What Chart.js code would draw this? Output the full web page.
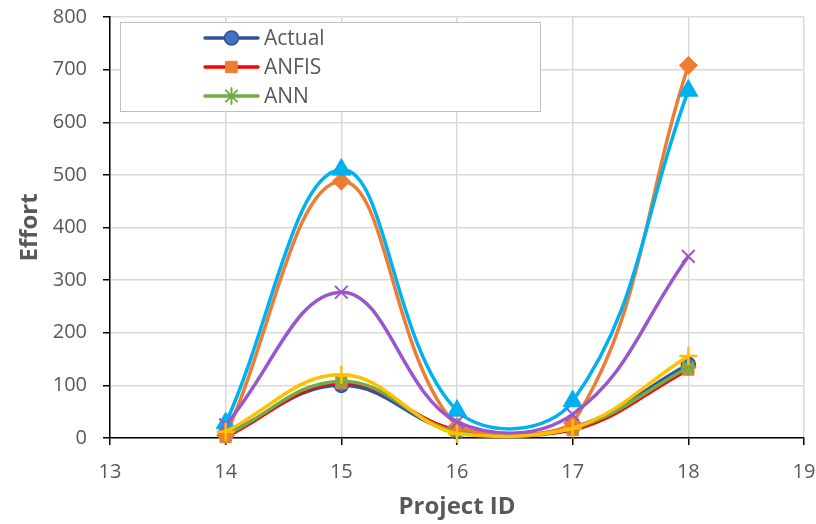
<!DOCTYPE html>
<html>
<head>
<meta charset="utf-8">
<script src="https://cdn.jsdelivr.net/npm/chart.js@4.4.1/dist/chart.umd.min.js"></script>
<style>
html,body{margin:0;padding:0;background:#fff;}
#wrap{width:816px;height:524px;}
</style>
</head>
<body>
<div id="wrap"><canvas id="c" width="816" height="524"></canvas></div>
<script>
const projectIds = [14, 15, 16, 17, 18];
const actual   = [8, 100, 12, 20, 140];
const anfis    = [2, 105, 15, 15, 130];
const ann      = [5, 108, 12, 18, 134];
const modelD   = [5, 488, 22, 28, 708];
const modelE   = [28, 510, 52, 70, 660];
const modelF   = [25, 277, 30, 45, 345];
const modelG   = [12, 120, 8, 18, 156];
const seriesNames = ['Actual', 'ANFIS', 'ANN', 'Model D', 'Model E', 'Model F', 'Model G'];
const legendCount = 3;

const pts = arr => arr.map((v, i) => ({x: projectIds[i], y: v}));

const styles = [
  {line:'#2F55A0', fill:'#4472C4', border:'#2F528F', ps:'circle', r:7, bw:1.5},
  {line:'#FF0000', fill:'#ED7D31', border:'#ED7D31', ps:'rect', r:8, bw:1},
  {line:'#70AD47', fill:'#70AD47', border:'#70AD47', ps:'star', r:8, bw:2},
  {line:'#ED7D31', fill:'#ED7D31', border:'#ED7D31', ps:'rectRot', r:9, bw:1},
  {line:'#00B0F0', fill:'#00B0F0', border:'#00B0F0', ps:'triangle', r:11, bw:1},
  {line:'#9A57CD', fill:'#9A57CD', border:'#9A57CD', ps:'crossRot', r:9, bw:2},
  {line:'#FFC000', fill:'#FFC000', border:'#FFC000', ps:'cross', r:9, bw:2.5}
];
const values = [actual, anfis, ann, modelD, modelE, modelF, modelG];

const datasets = values.map((v, i) => ({
  label: seriesNames[i],
  data: pts(v),
  borderColor: styles[i].line,
  borderWidth: 3.5,
  tension: 0.4,
  pointStyle: styles[i].ps,
  pointRadius: styles[i].r,
  pointBackgroundColor: styles[i].fill,
  pointBorderColor: styles[i].border,
  pointBorderWidth: styles[i].bw,
  order: values.length - i,
  clip: 6
}));

const textColor = '#595959';
const fontFam = "'Open Sans', 'Liberation Sans', sans-serif";

const legendBox = {
  id: 'legendBox',
  afterDraw(chart) {
    const ctx = chart.ctx;
    const ca = chart.chartArea;
    const x0 = ca.left + 10, y0 = ca.top + 5, w = 420, h = 89;
    ctx.save();
    ctx.fillStyle = '#ffffff';
    ctx.fillRect(x0, y0, w, h);
    ctx.strokeStyle = '#bfbfbf';
    ctx.lineWidth = 1;
    ctx.strokeRect(x0 + 0.5, y0 + 0.5, w, h);
    for (let i = 0; i < legendCount; i++) {
      const ds = chart.data.datasets[i];
      const y = y0 + 16 + i * 29;
      const lx0 = x0 + 85, lx1 = x0 + 138;
      ctx.strokeStyle = ds.borderColor;
      ctx.lineWidth = 3.5;
      ctx.lineCap = 'round';
      ctx.beginPath(); ctx.moveTo(lx0, y); ctx.lineTo(lx1, y); ctx.stroke();
      ctx.fillStyle = ds.pointBackgroundColor;
      ctx.strokeStyle = ds.pointBorderColor;
      ctx.lineWidth = ds.pointBorderWidth;
      Chart.helpers.drawPoint(ctx, {pointStyle: ds.pointStyle, radius: ds.pointRadius, rotation: 0, borderWidth: ds.pointBorderWidth}, (lx0 + lx1) / 2, y);
      ctx.fillStyle = textColor;
      ctx.font = "21px " + fontFam;
      ctx.textBaseline = 'middle';
      ctx.textAlign = 'left';
      ctx.fillText(ds.label, lx1 + 6, y + 1);
    }
    ctx.restore();
  }
};

new Chart(document.getElementById('c'), {
  type: 'line',
  data: { datasets },
  options: {
    responsive: false,
    animation: false,
    events: [],
    layout: { padding: { top: 17, right: 12, left: 0, bottom: 0 } },
    plugins: { legend: { display: false }, tooltip: { enabled: false } },
    scales: {
      x: {
        type: 'linear', min: 13, max: 19,
        ticks: { stepSize: 1, color: textColor, font: { size: 20, family: fontFam }, padding: 15 },
        grid: { color: '#d9d9d9', lineWidth: 1.5, tickColor: '#000', tickLength: 7 },
        border: { color: '#000', width: 1.5 },
        title: { display: true, text: 'Project ID', color: textColor, font: { size: 24, weight: 'bold', family: fontFam }, padding: { top: 4, bottom: 2 } },
        afterFit(s) { s.height = 86; s.paddingLeft = 0; s.paddingRight = 0; }
      },
      y: {
        min: 0, max: 800,
        ticks: { stepSize: 100, color: textColor, font: { size: 20, family: fontFam }, padding: 16 },
        grid: { color: '#d9d9d9', lineWidth: 1.5, tickColor: '#000', tickLength: 7 },
        border: { color: '#000', width: 1.5 },
        title: { display: true, text: 'Effort', color: textColor, font: { size: 24, weight: 'bold', family: fontFam }, padding: { top: 16, bottom: 4 } },
        afterFit(s) { s.width = 110; s.paddingTop = 0; s.paddingBottom = 0; }
      }
    }
  },
  plugins: [legendBox]
});
</script>
</body>
</html>
